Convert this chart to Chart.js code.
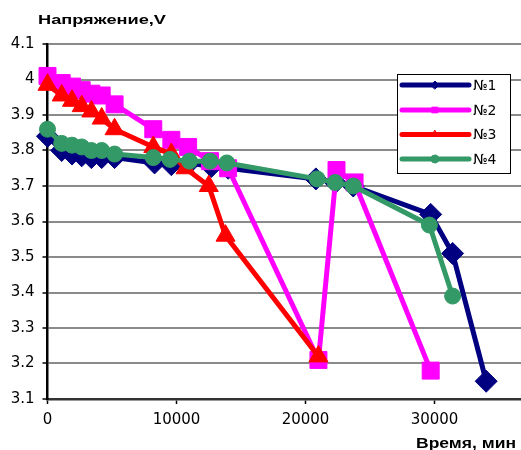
<!DOCTYPE html>
<html lang="ru">
<head>
<meta charset="UTF-8">
<title>Напряжение</title>
<script src="https://cdn.jsdelivr.net/npm/chart.js"></script>
<style>
  body { margin: 0; background: #fff; }
  #wrap { width: 521px; height: 450px; }
</style>
</head>
<body>
<div id="wrap"><canvas id="chart" width="521" height="450"></canvas></div>
<script>
// данные (время, мин / напряжение, V)
const names = ['№1', '№2', '№3', '№4'];

const t1 = [0, 1100, 1900, 2650, 3400, 4200, 5200, 8300, 9600, 11000, 12700, 14000, 20800, 22300, 23700, 29700, 31400, 34000];
const u1 = [3.84, 3.80, 3.79, 3.785, 3.78, 3.78, 3.78, 3.765, 3.76, 3.765, 3.755, 3.75, 3.72, 3.71, 3.70, 3.62, 3.51, 3.15];

const t2 = [0, 1100, 1900, 2650, 3400, 4200, 5200, 8200, 9600, 10900, 12600, 14000, 21000, 22400, 23800, 29700];
const u2 = [4.01, 3.99, 3.98, 3.97, 3.96, 3.955, 3.93, 3.86, 3.83, 3.81, 3.77, 3.75, 3.21, 3.745, 3.71, 3.18];

const t3 = [0, 1100, 1900, 2650, 3400, 4200, 5200, 8200, 9600, 10700, 12500, 13800, 21000];
const u3 = [3.985, 3.955, 3.94, 3.925, 3.91, 3.89, 3.86, 3.81, 3.79, 3.75, 3.70, 3.56, 3.22];

const t4 = [0, 1100, 1900, 2650, 3400, 4200, 5200, 8200, 9500, 11000, 12600, 13900, 20900, 22300, 23700, 29600, 31400];
const u4 = [3.86, 3.82, 3.815, 3.81, 3.80, 3.80, 3.79, 3.78, 3.775, 3.77, 3.77, 3.765, 3.72, 3.71, 3.70, 3.59, 3.39];

const xTicks = [0, 10000, 20000, 30000];

const colors = ['#000080', '#FF00FF', '#FF0000', '#339966'];
const markers = ['rectRot', 'rect', 'triangle', 'circle'];
const sizes = [11, 12, 11, 8];

function pts(t, u) {
    return t.map((x, i) => ({ x: x, y: u[i] }));
}
const series = [pts(t1, u1), pts(t2, u2), pts(t3, u3), pts(t4, u4)];

const datasets = series.map((d, i) => ({
    label: names[i],
    data: d,
    borderColor: colors[i],
    backgroundColor: colors[i],
    pointBackgroundColor: colors[i],
    pointBorderColor: colors[i],
    pointBorderWidth: 1,
    pointStyle: markers[i],
    pointRadius: sizes[i],
    borderWidth: 5,
    borderJoinStyle: 'round',
    showLine: true,
    tension: 0,
    clip: false,
    order: 4 - i  // как в Excel: последний ряд сверху
}));

const font = 'DejaVu Sans';
const titleFont = '"Liberation Sans", Arial, sans-serif';

// текст, растянутый по ширине (в оригинале шрифт немного растянут)
function wideText(ctx, text, x, y, w, align) {
    const m = ctx.measureText(text).width;
    const k = w / m;
    ctx.save();
    ctx.translate(align === 'right' ? x - w : x, y);
    ctx.scale(k, 1);
    ctx.textAlign = 'left';
    ctx.fillText(text, 0, 0);
    ctx.restore();
}

// подписи осей и легенда
const extras = {
    id: 'extras',
    afterDraw(chart) {
        const ctx = chart.ctx;
        ctx.save();
        ctx.fillStyle = '#000';
        ctx.textBaseline = 'alphabetic';
        ctx.font = 'bold 13px ' + titleFont;
        wideText(ctx, 'Напряжение,V', 38, 24, 128, 'left');
        ctx.font = 'bold 14px ' + titleFont;
        wideText(ctx, 'Время, мин', 516, 448, 100, 'right');

        // легенда
        const bx = 397, by = 74, bw = 113, bh = 99;
        ctx.fillStyle = '#fff';
        ctx.fillRect(bx, by, bw, bh);
        ctx.strokeStyle = '#000';
        ctx.lineWidth = 1;
        ctx.strokeRect(bx + 0.5, by + 0.5, bw, bh);
        const rows = [85, 110, 134.5, 159];
        ctx.font = '14px ' + font;
        ctx.textBaseline = 'middle';
        names.forEach((n, i) => {
            const y = rows[i];
            ctx.strokeStyle = colors[i];
            ctx.lineWidth = 5;
            ctx.lineCap = 'round';
            ctx.beginPath();
            ctx.moveTo(402, y);
            ctx.lineTo(469, y);
            ctx.stroke();
            ctx.fillStyle = colors[i];
            ctx.lineWidth = 1;
            Chart.helpers.drawPoint(ctx, { pointStyle: markers[i], radius: 4, borderWidth: 1, rotation: 0 }, 435, y);
            ctx.fillStyle = '#000';
            ctx.textAlign = 'left';
            ctx.fillText(n, 473, y + 1);
        });
        ctx.restore();
    }
};

new Chart(document.getElementById('chart'), {
    type: 'scatter',
    data: { datasets: datasets },
    plugins: [extras],
    options: {
        responsive: false,
        animation: false,
        devicePixelRatio: 1,
        layout: { autoPadding: false, padding: { top: 44, left: 0, right: 0, bottom: 0 } },
        plugins: {
            legend: { display: false },
            tooltip: { enabled: false }
        },
        scales: {
            x: {
                type: 'linear',
                min: 0,
                max: 36700,
                afterBuildTicks(scale) {
                    scale.ticks = xTicks.map(v => ({ value: v }));
                },
                afterFit(scale) { scale.height = 51; },
                ticks: {
                    color: '#000',
                    font: { family: font, size: 15 },
                    padding: 7,
                    maxRotation: 0,
                    callback: v => String(v)
                },
                grid: {
                    drawOnChartArea: false,
                    drawTicks: true,
                    tickLength: 5,
                    tickColor: '#000',
                    tickWidth: 1.5
                },
                border: { color: '#333', width: 2.5 }
            },
            y: {
                min: 3.1,
                max: 4.1,
                afterFit(scale) { scale.width = 47.5; },
                ticks: {
                    stepSize: 0.1,
                    color: '#000',
                    font: { family: font, size: 15 },
                    padding: 8,
                    callback: v => String(Number(v.toFixed(1)))
                },
                grid: {
                    color: '#8a8a8a',
                    lineWidth: 2,
                    tickLength: 5,
                    tickColor: '#000',
                    tickWidth: 1.5
                },
                border: { color: '#000', width: 2.5 }
            }
        }
    }
});
</script>
</body>
</html>
